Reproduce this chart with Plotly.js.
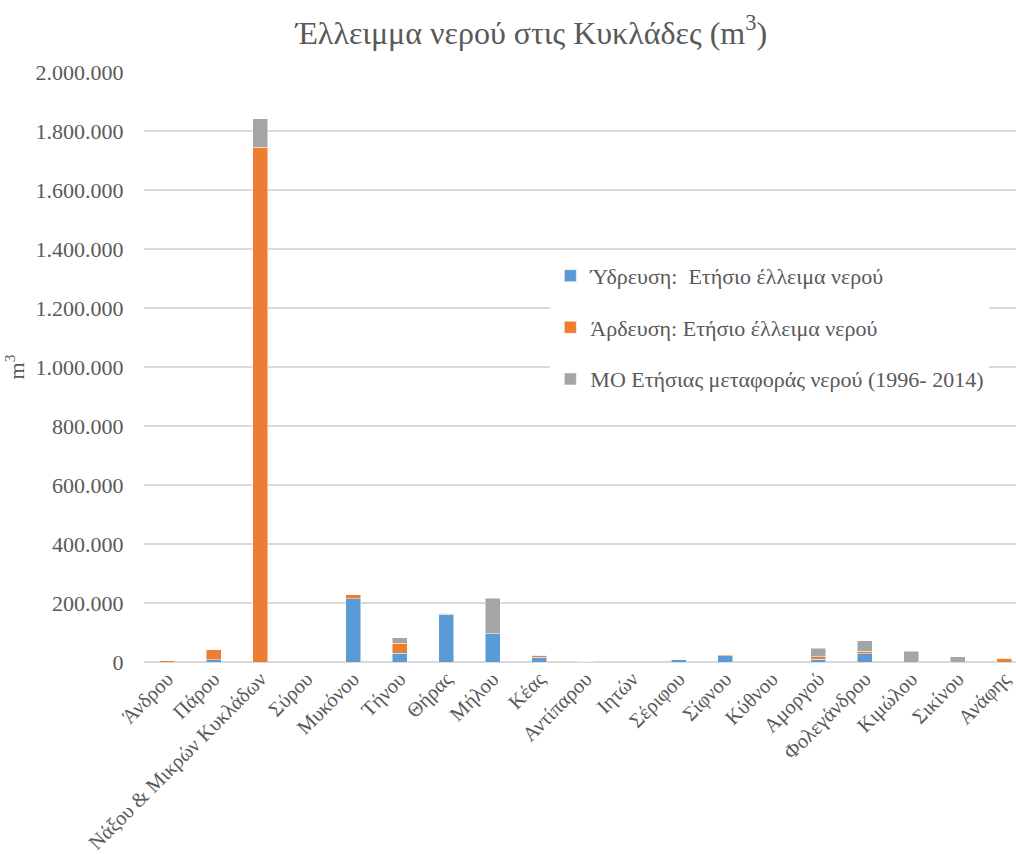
<!DOCTYPE html>
<html>
<head>
<meta charset="utf-8">
<script src="https://cdn.plot.ly/plotly-3.0.1.min.js"></script>
<style>html,body{margin:0;padding:0;background:#fff;}#chart{width:1016px;height:854px;}</style>
</head>
<body>
<div id="chart"></div>
<script>
const categories = ["Άνδρου","Πάρου","Νάξου & Μικρών Κυκλάδων","Σύρου","Μυκόνου","Τήνου","Θήρας","Μήλου","Κέας","Αντίπαρου","Ιητών","Σέριφου","Σίφνου","Κύθνου","Αμοργού","Φολεγάνδρου","Κιμώλου","Σικίνου","Ανάφης"];
const ydreusi  = [0, 8000, 0, 0, 215000, 29000, 162000, 95000, 16000, 0, 0, 7000, 22000, 0, 9000, 28000, 0, 0, 0];
const ardeusi  = [5000, 34000, 1745000, 0, 13000, 34000, 4000, 0, 7000, 3000, 0, 0, 3000, 0, 8000, 9000, 0, 0, 13000];
const metafora = [0, 0, 97000, 0, 0, 20000, 0, 121000, 0, 0, 0, 0, 0, 0, 30000, 35000, 37000, 17000, 0];
const seriesNames = ["Ύδρευση:  Ετήσιο έλλειμα νερού","Άρδευση: Ετήσιο έλλειμα νερού","ΜΟ Ετήσιας μεταφοράς νερού (1996- 2014)"];
const colors = ["#5B9BD5","#ED7D31","#A5A5A5"];
const values = [ydreusi, ardeusi, metafora];

const FONT = "Liberation Serif";
const traces = values.map((v, i) => ({
  type: "bar",
  x: categories,
  y: v,
  name: seriesNames[i],
  legendgroup: "g" + i,
  marker: {color: colors[i], line: {color: "rgba(255,255,255,0.6)", width: 0.8}},
  hoverinfo: "x+y+name"
}));

const layout = {
  width: 1016, height: 854,
  paper_bgcolor: "#fff", plot_bgcolor: "#fff",
  separators: ",.",
  barmode: "stack",
  bargap: 0.68,
  margin: {l: 144, r: 0, t: 72, b: 192, autoexpand: false},
  title: {
    text: "Έλλειμμα νερού στις Κυκλάδες (m<sup>3</sup>)",
    font: {family: FONT, size: 32, color: "#595959"},
    x: 0.523, xref: "container", xanchor: "center",
    y: 0.962, yref: "container", yanchor: "middle"
  },
  font: {family: FONT, color: "#595959"},
  xaxis: {
    type: "category",
    range: [-0.5, 18.25],
    tickangle: -45,
    tickfont: {family: FONT, size: 20.5, color: "#595959"},
    showgrid: false,
    showline: false,
    zeroline: false,
    ticks: "",
    automargin: false
  },
  yaxis: {
    range: [0, 2000000],
    dtick: 200000,
    tickformat: ",d",
    tickfont: {family: FONT, size: 22, color: "#595959"},
    gridcolor: "#D9D9D9",
    gridwidth: 1.5,
    zeroline: true,
    zerolinecolor: "#D9D9D9",
    zerolinewidth: 1.5,
    showline: false,
    ticks: "outside",
    ticklen: 15,
    tickcolor: "rgba(0,0,0,0)",
    automargin: false,
    title: {text: "m<sup>3</sup>", font: {family: FONT, size: 22, color: "#595959"}, standoff: 4}
  },
  legend: {
    x: 0.466, xanchor: "left",
    y: 0.69, yanchor: "top",
    bgcolor: "#fff",
    traceorder: "grouped",
    tracegroupgap: 20,
    font: {family: FONT, size: 22, color: "#595959"},
    itemwidth: 30
  },
  showlegend: true
};

Plotly.newPlot("chart", traces, layout, {displayModeBar: false, staticPlot: true});
</script>
</body>
</html>
